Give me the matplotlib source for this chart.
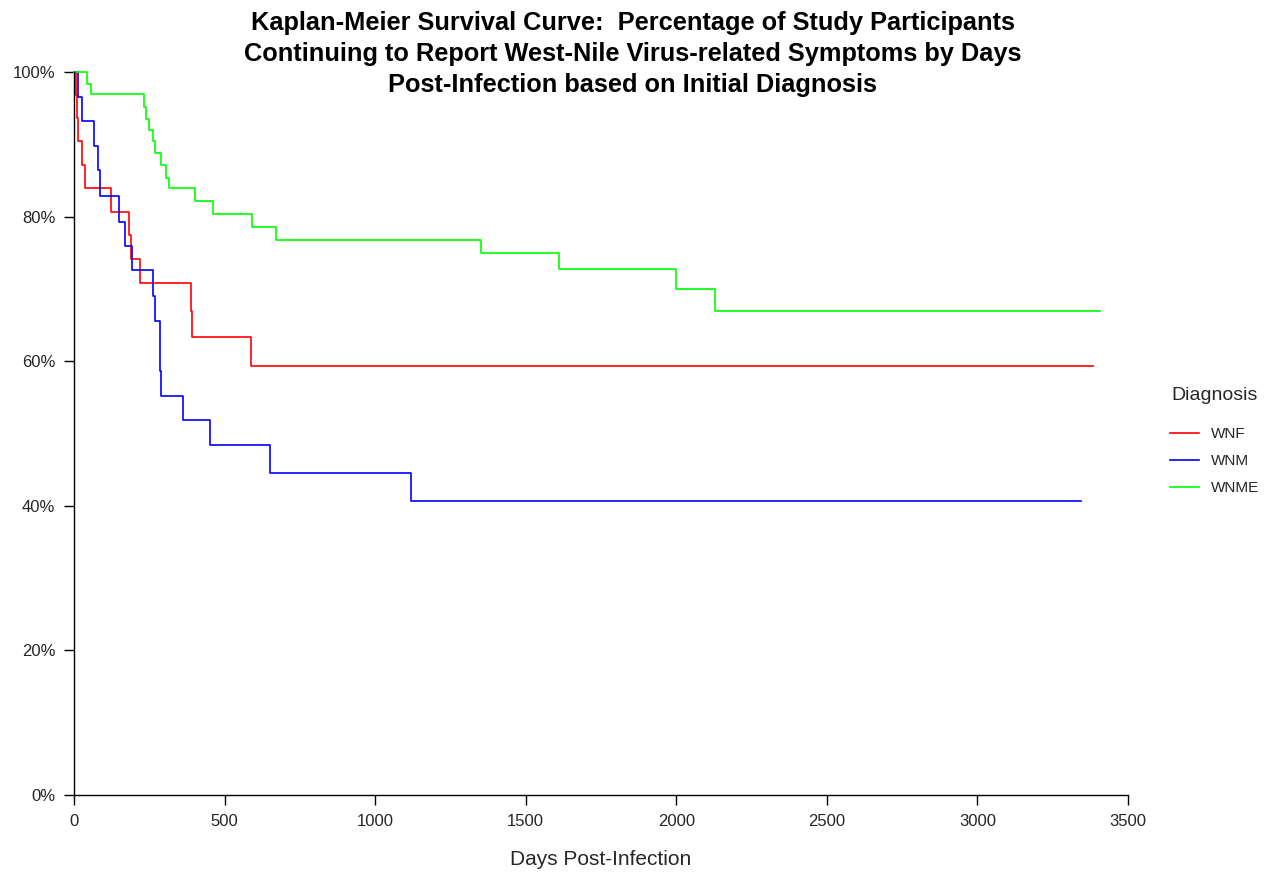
import matplotlib
matplotlib.use('Agg')
import matplotlib.pyplot as plt
from matplotlib.ticker import FuncFormatter

plt.rcParams['font.family'] = ['Liberation Sans', 'DejaVu Sans']

# Kaplan-Meier step values (days, % still reporting symptoms)
wnf_days = [0, 5, 10, 13, 26, 36, 123, 184, 189, 220, 389, 393, 587, 3383]
wnf_surv = [100, 96.8, 93.7, 90.4, 87.2, 83.9, 80.6, 77.4, 74.2, 70.8, 67.0, 63.4, 59.4, 59.4]

wnm_days = [0, 12, 26, 65, 80, 85, 150, 168, 192, 262, 270, 287, 290, 361, 450, 651, 1120, 3343]
wnm_surv = [100, 96.6, 93.2, 89.8, 86.4, 82.9, 79.3, 76.0, 72.6, 69.0, 65.6, 58.6, 55.2, 51.8, 48.4, 44.6, 40.6, 40.6]

wnme_days = [0, 42, 57, 234, 240, 249, 263, 269, 290, 307, 314, 403, 460, 590, 670, 1350, 1610, 2000, 2130, 3407]
wnme_surv = [100, 98.3, 96.9, 95.1, 93.5, 92.0, 90.4, 88.8, 87.1, 85.4, 83.9, 82.2, 80.4, 78.6, 76.8, 74.9, 72.8, 70.0, 66.9, 66.9]

groups = ['WNF', 'WNM', 'WNME']
colors = ['#FF0000', '#0000FF', '#00FF00']
x_ticks = [0, 500, 1000, 1500, 2000, 2500, 3000, 3500]
y_ticks = [0, 20, 40, 60, 80, 100]

fig = plt.figure(figsize=(12.66, 8.72), dpi=100)
W, H = 1266, 872
ax = fig.add_axes([74 / W, (H - 795) / H, (1128 - 74) / W, (795 - 72) / H])

series = [(wnf_days, wnf_surv), (wnm_days, wnm_surv), (wnme_days, wnme_surv)]
for (d, s), name, c in zip(series, groups, colors):
    ax.step(d, s, where='post', color=c, lw=1.2, label=name, clip_on=False)

ax.set_xlim(0, 3500)
ax.set_ylim(0, 100)
ax.set_xticks(x_ticks)
ax.set_yticks(y_ticks)
ax.yaxis.set_major_formatter(FuncFormatter(lambda v, p: '%d%%' % v))

for side in ['top', 'right']:
    ax.spines[side].set_visible(False)
for side in ['left', 'bottom']:
    ax.spines[side].set_linewidth(1.0)
    ax.spines[side].set_color('black')
ax.tick_params(axis='both', length=7, width=1.0, color='black', labelsize=12,
               labelcolor='#262626', pad=6.5)

ax.set_xlabel('Days Post-Infection', fontsize=15, color='#262626', labelpad=15)

fig.text(0.5, 1 - 11 / H,
         'Kaplan-Meier Survival Curve:  Percentage of Study Participants\n'
         'Continuing to Report West-Nile Virus-related Symptoms by Days\n'
         'Post-Infection based on Initial Diagnosis',
         ha='center', va='top', fontsize=18.3, fontweight='bold', linespacing=1.38)

leg = ax.legend(title='Diagnosis', loc='upper left', bbox_to_anchor=(1156 / W, 1 - 373 / H),
                bbox_transform=fig.transFigure, frameon=False, fontsize=11,
                title_fontsize=14, handlelength=1.9, labelspacing=0.84, handletextpad=0.8)
leg._legend_box.align = 'center'
leg._legend_box.sep = 17
for t in leg.get_texts():
    t.set_color('#262626')
leg.get_title().set_color('#262626')

fig.savefig('out.png', dpi=100)
